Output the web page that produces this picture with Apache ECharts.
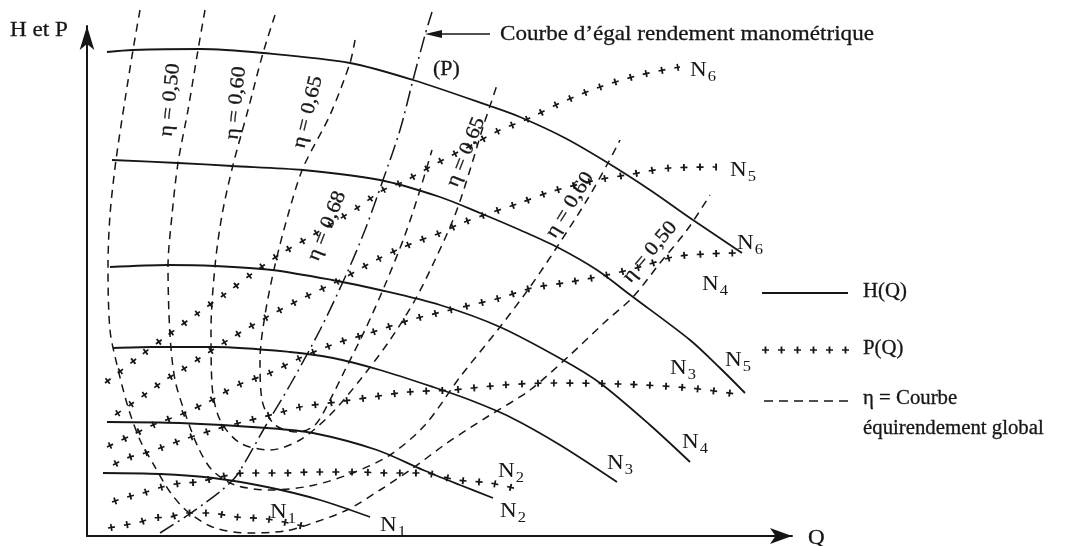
<!DOCTYPE html>
<html>
<head>
<meta charset="utf-8">
<script src="https://cdn.jsdelivr.net/npm/echarts@6/dist/echarts.min.js"></script>
<style>
  html, body { margin: 0; padding: 0; background: #fff; }
  #chart { width: 1067px; height: 546px; }
</style>
</head>
<body>
<div id="chart"></div>
<script>
// Pump characteristic diagram: head H(Q), power P(Q) for speeds N1..N6,
// iso-efficiency curves (eta) and the equal manometric efficiency curve.
// Units are arbitrary (schematic diagram), pairs are [Q, value].

// Head curves H(Q)
const H1 = [[16,63],[73,62],[126,58],[180,49],[233,36],[283,19]];
const H2 = [[20,114],[93,113],[180,108],[226,103],[290,86],[336,66],[373,51],[406,38]];
const H3 = [[26,188],[65,189],[128,189],[203,184],[246,178],[293,166],[346,149],[383,136],[423,119],[473,91],[530,54]];
const H4 = [[23,269],[81,271],[128,270],[185,266],[245,256],[293,246],[353,231],[413,209],[476,176],[513,153],[563,111],[603,74]];
const H5 = [[25,376],[91,373],[145,370],[216,366],[293,356],[353,339],[393,323],[433,306],[470,289],[510,266],[546,239],[603,196],[633,168],[658,143]];
const H6 = [[20,484],[46,486],[113,487],[176,483],[263,473],[326,456],[403,430],[433,419],[478,398],[521,373],[563,346],[606,316],[655,283]];

// Power curves P(Q)
const P1 = [[21,8],[38,11],[53,14],[66,18],[83,19],[98,23],[121,23],[150,19],[180,17],[211,11],[225,8]];
const P2 = [[25,34],[40,39],[56,43],[75,49],[95,53],[111,54],[128,58],[158,63],[195,63],[230,64],[268,64],[301,63],[336,63],[370,56],[403,53],[435,46]];
const P3 = [[26,71],[40,78],[58,83],[76,89],[95,96],[126,106],[156,114],[195,124],[213,129],[250,134],[285,139],[321,144],[365,146],[416,151],[466,153],[533,152],[603,148],[655,141]];
const P4 = [[20,89],[43,100],[66,111],[95,122],[121,134],[151,151],[183,163],[213,178],[250,193],[283,203],[323,216],[363,226],[413,238],[445,248],[483,254],[520,261],[553,269],[586,279],[618,282],[650,283]];
const P5 = [[28,121],[43,131],[60,143],[78,156],[95,166],[113,178],[146,199],[180,219],[216,238],[253,256],[293,278],[326,293],[353,303],[375,313],[403,323],[433,333],[463,344],[510,356],[540,361],[583,368],[630,369]];
const P6 = [[18,153],[31,163],[53,180],[81,201],[111,223],[138,242],[166,263],[195,283],[226,301],[270,328],[296,346],[316,354],[350,373],[383,390],[413,406],[443,418],[473,433],[513,449],[553,461],[593,469]];

// Iso-efficiency curves (global efficiency)
const eta50 = [[53,526],[46,486],[38,436],[29,376],[23,321],[21,269],[23,206],[30,171],[41,129],[53,96],[68,69],[83,44],[101,24],[128,8],[163,3],[198,5],[226,13],[260,26],[293,46],[326,68],[360,93],[400,119],[443,146],[483,181],[518,214],[546,239],[573,273],[600,306],[623,341]];
const eta60 = [[118,526],[111,486],[101,426],[91,373],[85,321],[81,269],[83,201],[88,156],[98,123],[111,89],[125,66],[148,51],[183,46],[223,50],[263,62],[303,81],[338,111],[373,159],[413,209],[443,249],[470,289],[500,336],[521,373],[533,396]];
const eta65 = [[188,521],[176,483],[161,426],[146,371],[135,321],[128,270],[124,206],[125,151],[133,116],[153,93],[183,86],[213,96],[243,121],[273,156],[303,196],[328,236],[348,276],[368,321],[383,366],[396,409],[405,436],[410,451]];
const eta68 = [[268,496],[263,473],[243,421],[216,368],[201,321],[188,271],[178,221],[173,176],[175,136],[188,111],[211,104],[228,111],[243,136],[258,166],[278,206],[298,251],[318,301],[333,346],[345,386]];

// Equal manometric efficiency curve (P)
const manoCurve = [[73,3],[98,19],[118,33],[135,46],[150,61],[178,109],[203,151],[233,206],[260,263],[278,306],[296,356],[313,406],[326,456],[338,501],[345,524]];

// Text
const speedTags = ['1','2','3','4','5','6'];
const etaTags = ['0,50','0,60','0,65','0,68'];

const INK = '#161616';
const SERIF = '"Liberation Serif", "DejaVu Serif", serif';
const WIDE = 1.1;

const chart = echarts.init(document.getElementById('chart'), null, { renderer: 'canvas' });

function base(d) {
  return { type: 'line', data: d, smooth: 0.3, symbol: 'none', showSymbol: false,
           clip: false, silent: true, animation: false, z: 3 };
}
function headSeries(d) {
  return Object.assign(base(d), { lineStyle: { color: INK, width: 1.8 } });
}
// "+ + + +" stroke: short strokes along the curve crossed by short bars
function powerSeries(d) {
  return [
    Object.assign(base(d), { lineStyle: { color: INK, width: 1.7, type: [7, 9], dashOffset: 0 } }),
    Object.assign(base(d), { lineStyle: { color: INK, width: 7, type: [1.8, 14.2], dashOffset: 13.4 } })
  ];
}
function etaSeries(d) {
  return Object.assign(base(d), { lineStyle: { color: INK, width: 1.5, type: [8, 6] } });
}

const series = [];
[H1, H2, H3, H4, H5, H6].forEach(d => series.push(headSeries(d)));
[P1, P2, P3, P4, P5, P6].forEach(d => powerSeries(d).forEach(s => series.push(s)));
[eta50, eta60, eta65, eta68].forEach(d => series.push(etaSeries(d)));
series.push(Object.assign(base(manoCurve), { lineStyle: { color: INK, width: 1.5, type: [16, 5, 2, 5] } }));

function txt(x, y, text, size, wide) {
  return {
    type: 'text', x: x, y: y, scaleX: wide || WIDE, silent: true, z: 10,
    style: { text: text, font: size + 'px ' + SERIF, fill: INK, align: 'left', verticalAlign: 'middle',
             stroke: INK, lineWidth: 0.3 }
  };
}
function nTag(x, y, i) {
  return {
    type: 'text', x: x, y: y, scaleX: WIDE, silent: true, z: 10,
    style: {
      text: '{n|N}{s|' + speedTags[i] + '}', align: 'left', verticalAlign: 'middle',
      rich: {
        n: { fontFamily: SERIF, fontSize: 21, fill: INK, color: INK },
        s: { fontFamily: SERIF, fontSize: 15, fill: INK, color: INK, padding: [14, 0, 0, 1] }
      }
    }
  };
}
function etaTag(x, y, k, deg) {
  return {
    type: 'text', x: x, y: y, scaleX: WIDE, rotation: deg * Math.PI / 180, silent: true, z: 10,
    style: { text: '\u03b7 = ' + etaTags[k], font: '20px ' + SERIF, fill: INK,
             align: 'center', verticalAlign: 'middle', stroke: INK, lineWidth: 0.3 }
  };
}

const graphic = [
  txt(10, 30, 'H et P', 21),
  txt(808, 538, 'Q', 21),
  txt(500, 34, 'Courbe d\u2019\u00e9gal rendement manom\u00e9trique', 21),
  txt(433, 70, '(P)', 20),
  // pointer to the equal manometric efficiency curve
  { type: 'line', silent: true, shape: { x1: 438, y1: 34, x2: 490, y2: 34 }, style: { stroke: INK, lineWidth: 1.6 } },
  { type: 'polygon', silent: true, shape: { points: [[425, 34], [442, 30], [442, 38]] }, style: { fill: INK } },

  // speed tags on P(Q) curves
  nTag(690, 70, 5), nTag(730, 170, 4), nTag(702, 284, 3), nTag(670, 368, 2), nTag(498, 471, 1), nTag(270, 512, 0),
  // speed tags on H(Q) curves
  nTag(737, 243, 5), nTag(725, 360, 4), nTag(682, 442, 3), nTag(607, 463, 2), nTag(500, 511, 1), nTag(380, 525, 0),

  // efficiency tags
  etaTag(170, 100, 0, 84), etaTag(236, 103, 1, 84), etaTag(308, 112, 2, 76), etaTag(327, 226, 3, 68),
  etaTag(466, 152, 2, 68), etaTag(570, 205, 1, 58), etaTag(650, 252, 0, 50),

  // key
  { type: 'line', silent: true, shape: { x1: 762, y1: 293, x2: 848, y2: 293 }, style: { stroke: INK, lineWidth: 1.8 } },
  txt(863, 292, 'H(Q)', 20, 1.04),
  { type: 'line', silent: true, shape: { x1: 762, y1: 350, x2: 850, y2: 350 }, style: { stroke: INK, lineWidth: 1.7, lineDash: [7, 9], lineDashOffset: 0 } },
  { type: 'line', silent: true, shape: { x1: 762, y1: 350, x2: 850, y2: 350 }, style: { stroke: INK, lineWidth: 7, lineDash: [1.8, 14.2], lineDashOffset: 13.4 } },
  txt(863, 349, 'P(Q)', 20, 1.04),
  { type: 'line', silent: true, shape: { x1: 764, y1: 401, x2: 848, y2: 401 }, style: { stroke: INK, lineWidth: 1.6, lineDash: [9, 6] } },
  txt(863, 399, '\u03b7 = Courbe', 20, 1.04),
  txt(863, 429, '\u00e9quirendement global', 20, 1.04)
];

chart.setOption({
  animation: false,
  backgroundColor: '#ffffff',
  grid: { left: 87, right: 275, top: 26, bottom: 10, containLabel: false },
  xAxis: {
    type: 'value', min: 0, max: 705,
    axisLine: { show: true, onZero: false, symbol: ['none', 'arrow'], symbolSize: [12, 22],
                lineStyle: { color: INK, width: 2 } },
    axisTick: { show: false }, axisLabel: { show: false }, splitLine: { show: false }
  },
  yAxis: {
    type: 'value', min: 0, max: 510,
    axisLine: { show: true, onZero: false, symbol: ['none', 'arrow'], symbolSize: [11, 24],
                lineStyle: { color: INK, width: 2 } },
    axisTick: { show: false }, axisLabel: { show: false }, splitLine: { show: false }
  },
  series: series,
  graphic: graphic
});
</script>
</body>
</html>
